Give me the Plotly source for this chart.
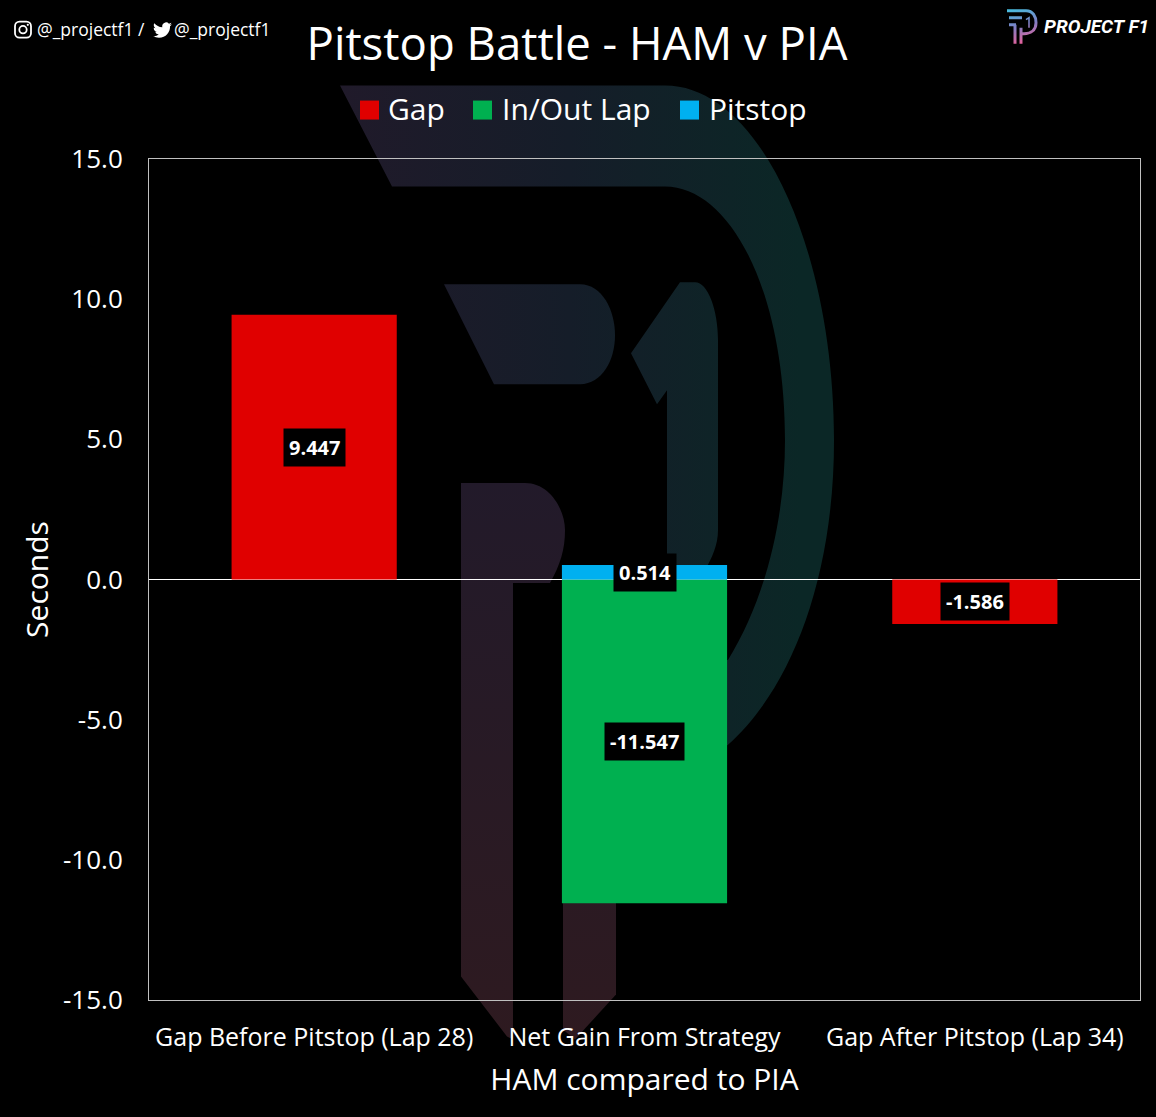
import base64
import plotly.graph_objects as go

# Data
categories = ["Gap Before Pitstop (Lap 28)", "Net Gain From Strategy", "Gap After Pitstop (Lap 34)"]
gap = [9.447, None, -1.586]
in_out_lap = [None, -11.547, None]
pitstop = [None, 0.514, None]
tick_vals = [-15, -10, -5, 0, 5, 10, 15]
tick_text = ["-15.0", "-10.0", "-5.0", "0.0", "5.0", "10.0", "15.0"]

W, H = 1156, 1117
L, R, T, B = 149, 1140, 158.5, 1000.5
FONT = "Open Sans"

# pixel position on the page -> paper fraction
def px(x):
    return (x - L) / (R - L)

def py(y):
    return (B - y) / (B - T)

# Watermark and logos, drawn as one svg behind the plot
svg = f"""<svg xmlns="http://www.w3.org/2000/svg" width="{W}" height="{H}" viewBox="0 0 {W} {H}">
<defs>
<linearGradient id="wm" gradientUnits="userSpaceOnUse" x1="340" y1="0" x2="800" y2="0">
<stop offset="0" stop-color="#201a2a"/><stop offset="0.5" stop-color="#151d29"/><stop offset="1" stop-color="#0b2726"/>
</linearGradient>
<linearGradient id="stem" gradientUnits="userSpaceOnUse" x1="0" y1="480" x2="0" y2="1040">
<stop offset="0" stop-color="#221a2a"/><stop offset="1" stop-color="#2e1a20"/>
</linearGradient>
<linearGradient id="logo" gradientUnits="userSpaceOnUse" x1="1010" y1="8" x2="1020" y2="44">
<stop offset="0" stop-color="#45c0e0"/><stop offset="0.5" stop-color="#7d7fc4"/><stop offset="1" stop-color="#e8609a"/>
</linearGradient>
</defs>
<path fill="url(#wm)" d="M340 85 L665 85 C760 85 834 250 834 440 C834 580 790 690 728 745 L640 800 L640 660 L728 660 C765 600 785 520 785 440 C785 290 730 186 665 186 L392 186 Z"/>
<path fill="url(#wm)" d="M444 284 L580 284 C602 284 615 310 615 335 C615 360 602 384 580 384 L494 384 Z"/>
<path fill="url(#wm)" d="M680 282 L695 282 C708 282 718 310 718 340 L718 530 C718 545 712 558 705 570 L667 570 L667 390 L657 404 L631 353 Z"/>
<path fill="url(#stem)" d="M461 483 L525 483 C550 483 565 510 565 530 C565 550 560 565 550 583 L513 583 L513 1040 L507 1037 L461 977 Z"/>
<path fill="url(#stem)" d="M563 880 L616 880 L616 995 L575 1040 L563 1030 Z"/>
<g fill="none" stroke="#ffffff" stroke-width="1.8">
<rect x="15" y="21" width="16" height="16" rx="4.5"/><circle cx="23" cy="29" r="3.7"/>
</g>
<circle cx="27.8" cy="24.2" r="1.1" fill="#ffffff"/>
<path fill="#ffffff" transform="translate(153 20) scale(0.79)" d="M23.95 4.57a10 10 0 0 1-2.82.77 4.96 4.96 0 0 0 2.16-2.72c-.95.55-2 .95-3.12 1.18a4.92 4.92 0 0 0-8.38 4.48C7.69 8.1 4.07 6.13 1.64 3.16a4.82 4.82 0 0 0-.66 2.47c0 1.71.87 3.21 2.19 4.1a4.9 4.9 0 0 1-2.23-.61v.06a4.92 4.92 0 0 0 3.95 4.83 5 5 0 0 1-2.21.08 4.94 4.94 0 0 0 4.6 3.42A9.87 9.87 0 0 1 0 19.54a14 14 0 0 0 7.56 2.21c9.05 0 14-7.5 14-13.98 0-.21 0-.42-.02-.63a9.94 9.94 0 0 0 2.41-2.57z"/>
<g fill="none" stroke="url(#logo)" stroke-width="3">
<path d="M1007 10 L1026 10 C1033 10 1036 16 1036 22 C1036 30 1030 33 1024 33 L1021 33"/>
<path d="M1009 17 L1022 17 M1015 24 L1015 43 M1009 24 L1016 24 M1021 27 L1021 43"/>
<path stroke-width="1.6" d="M1026 19 L1029 17 L1029 27"/>
</g>
</svg>"""
svg_uri = "data:image/svg+xml;base64," + base64.b64encode(svg.encode()).decode()

fig = go.Figure()
fig.add_trace(go.Bar(x=categories, y=gap, name="Gap", marker_color="#e00000", marker_line_width=0))
fig.add_trace(go.Bar(x=categories, y=in_out_lap, name="In/Out Lap", marker_color="#00b050", marker_line_width=0))
fig.add_trace(go.Bar(x=categories, y=pitstop, name="Pitstop", marker_color="#00b0f0", marker_line_width=0))

# Value labels with black boxes, centred in each bar
annotations = []
for series in (gap, in_out_lap, pitstop):
    for cat, v in zip(categories, series):
        if v is None:
            continue
        annotations.append(dict(x=cat, y=v / 2, xref="x", yref="y", text=f"<b>{v:.3f}</b>",
                                showarrow=False, bgcolor="#000000", borderpad=5,
                                font=dict(family=FONT, size=20, color="white")))

# Hand placed legend, the built in swatches are too small
shapes = []
for trace, sx, tx in zip(fig.data, [360, 473, 680], [386, 500, 707]):
    shapes.append(dict(type="rect", xref="paper", yref="paper", line_width=0,
                       x0=px(sx), x1=px(sx + 19), y0=py(119), y1=py(100),
                       fillcolor=trace.marker.color))
    annotations.append(dict(x=px(tx), y=py(108), xref="paper", yref="paper", text=trace.name,
                            showarrow=False, xanchor="left", yanchor="middle",
                            font=dict(family=FONT, size=30, color="white")))

# Handles and logo text
annotations.append(dict(x=px(35), y=py(28), xref="paper", yref="paper", text="@_projectf1 /",
                        showarrow=False, xanchor="left", yanchor="middle",
                        font=dict(family=FONT, size=17.5, color="white")))
annotations.append(dict(x=px(172), y=py(28), xref="paper", yref="paper", text="@_projectf1",
                        showarrow=False, xanchor="left", yanchor="middle",
                        font=dict(family=FONT, size=17.5, color="white")))
annotations.append(dict(x=px(1042), y=py(26), xref="paper", yref="paper", text="<b><i>PROJECT F1</i></b>",
                        showarrow=False, xanchor="left", yanchor="middle",
                        font=dict(family="Roboto", size=19, color="white")))

fig.update_layout(
    width=W, height=H,
    margin=dict(l=L, r=W - R, t=T, b=H - B),
    paper_bgcolor="#000000", plot_bgcolor="rgba(0,0,0,0)",
    font=dict(family=FONT, color="white"),
    title=dict(text="Pitstop Battle - HAM v PIA", x=577 / W, xref="container", xanchor="center",
               y=1 - 44 / H, yanchor="middle", font=dict(family=FONT, size=45.5, color="white")),
    barmode="relative", bargap=0.5, showlegend=False,
    shapes=shapes, annotations=annotations,
    images=[dict(source=svg_uri, xref="paper", yref="paper", x=px(0), y=py(0),
                 sizex=W / (R - L), sizey=H / (B - T), xanchor="left", yanchor="top",
                 sizing="stretch", layer="below")],
)
fig.update_xaxes(title=dict(text="HAM compared to PIA", font=dict(size=30), standoff=16),
                 tickfont=dict(size=25), showgrid=False, showline=True, mirror=True,
                 linecolor="#c0c0c0", linewidth=1, ticks="", ticklabelstandoff=15)
fig.update_yaxes(title=dict(text="Seconds", font=dict(size=30), standoff=5),
                 range=[-15, 15], tickvals=tick_vals, ticktext=tick_text, tickfont=dict(size=26),
                 showgrid=False, showline=True, mirror=True, linecolor="#c0c0c0", linewidth=1,
                 zeroline=True, zerolinecolor="white", zerolinewidth=1, ticks="",
                 ticklabelstandoff=20)

fig.write_html("out.html", config={"displayModeBar": False},
               post_script="document.body.style.margin='0';document.body.style.overflow='hidden';")
